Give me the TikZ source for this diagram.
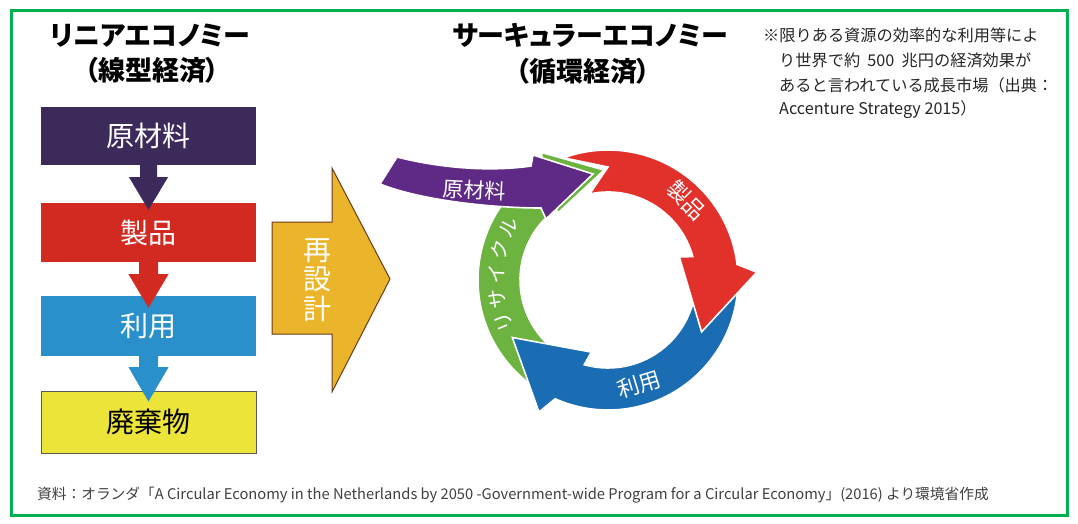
\documentclass[tikz,border=0pt]{standalone}
\usepackage{fontspec}
\usetikzlibrary{calc}
\newfontfamily\jp{Noto Sans CJK JP}
\newfontfamily\jpp[RawFeature=+palt]{Noto Sans CJK JP}
\definecolor{lpurple}{HTML}{3C2A5A}
\definecolor{lred}{HTML}{D22A20}
\definecolor{lblue}{HTML}{2990CB}
\definecolor{lyellow}{HTML}{EDE439}
\definecolor{gold}{HTML}{EAB52A}
\definecolor{goldedge}{HTML}{6B3A1A}
\definecolor{rpurple}{HTML}{5F2A86}
\definecolor{rred}{HTML}{E2302A}
\definecolor{rblue}{HTML}{1A6DB3}
\definecolor{rgreen}{HTML}{6DB33F}
\definecolor{frame}{HTML}{00B04F}
\tikzset{
  lbox/.style={minimum width=215pt, inner sep=0pt, text=white,
    font=\jp\fontsize{28}{30}\selectfont},
  title/.style={font=\jpp\bfseries\fontsize{27}{30}\selectfont, inner sep=0pt},
  ringshape/.style={draw=white, line width=1.6pt, line join=miter},
  ringtxt/.style={text=white, inner sep=0pt, font=\jp\fontsize{22}{23}\selectfont},
  recytxt/.style={text=white, inner sep=0pt, font=\jp\fontsize{20}{21}\selectfont},
  note/.style={anchor=west, inner sep=0pt, font=\jp\fontsize{16.2}{18}\selectfont, text=black!85},
}
\begin{document}
\begin{tikzpicture}[x=1pt,y=-1pt]
\fill[white] (0,0) rectangle (1078,523);
\useasboundingbox (0,0) rectangle (1078,523);
\draw[frame, line width=3.5pt] (11.5,10.5) rectangle (1067.5,515.5);

% ---------- left: linear economy ----------
\node[title] (lt1) at (150,36) {リニアエコノミー};
\node[title] (lt2) at (152,70) {（線型経済）};

\node[lbox, fill=lpurple, minimum height=58pt] (raw) at (148.5,136) {原材料};
\node[lbox, fill=lred, minimum height=59pt] (prod) at (148.5,232.5) {\raisebox{-4pt}{製品}};
\node[lbox, fill=lblue, minimum height=60pt] (use) at (148.5,326) {\raisebox{-8pt}{利用}};
\node[lbox, fill=lyellow, draw=black!65, line width=1pt, text=black, minimum height=62pt] (waste) at (148.5,422) {\raisebox{-5pt}{廃棄物}};

\fill[lpurple] ($(raw.south)+(-8.5,0)$) -- ($(raw.south)+(8.5,0)$) -- ($(raw.south)+(8.5,12)$)
  -- ($(raw.south)+(19.5,12)$) -- ($(prod.north)+(0,7)$) -- ($(raw.south)+(-19.5,12)$)
  -- ($(raw.south)+(-8.5,12)$) -- cycle;
\fill[lred] ($(prod.south)+(-9.5,0)$) -- ($(prod.south)+(9.5,0)$) -- ($(prod.south)+(9.5,12)$)
  -- ($(prod.south)+(20,12)$) -- ($(use.north)+(0,12)$) -- ($(prod.south)+(-20,12)$)
  -- ($(prod.south)+(-9.5,12)$) -- cycle;
\fill[lblue] ($(use.south)+(-9.5,0)$) -- ($(use.south)+(9.5,0)$) -- ($(use.south)+(9.5,11)$)
  -- ($(use.south)+(20,11)$) -- ($(waste.north)+(0,11)$) -- ($(use.south)+(-20,11)$)
  -- ($(use.south)+(-9.5,11)$) -- cycle;

% ---------- redesign arrow ----------
\coordinate (gtip) at (390,279);
\draw[fill=gold, draw=goldedge, line width=1pt, line join=miter]
  (272,222) -- (332,222) -- (332,168) -- (gtip) -- (332,392) -- (332,334) -- (272,334) -- cycle;
\node[text=white, inner sep=0pt, align=center, font=\jp\fontsize{28}{29.5}\selectfont] (redesign) at (317,280) {再\\設\\計};

% ---------- right: circular economy ----------
\node[title] (rt1) at (590,35) {サーキュラーエコノミー};
\node[title] (rt2) at (583,71) {（循環経済）};

\coordinate (C) at (608,280);
% green (recycle)
\filldraw[fill=rgreen, ringshape] ($(C)+(128:130)$) arc[start angle=128, end angle=240.3, radius=130]
  -- ($(C)+(242.4:144)$) -- ($(C)+(268:110)$) -- ($(C)+(233.3:83.6)$) -- ($(C)+(234:88)$)
  arc[start angle=234, end angle=128, radius=88] -- cycle;
% blue (use)
\filldraw[fill=rblue, ringshape] ($(C)+(0:130)$) arc[start angle=0, end angle=114, radius=130]
  -- ($(C)+(117.6:149)$) -- ($(C)+(149:111.6)$) -- ($(C)+(103:74)$) -- ($(C)+(105.7:88)$)
  arc[start angle=105.7, end angle=0, radius=88] -- cycle;
% red (product)
\filldraw[fill=rred, ringshape] ($(C)+(-110:130)$) arc[start angle=-110, end angle=-6.9, radius=130]
  -- ($(C)+(-3:149)$) -- ($(C)+(29:107)$) -- ($(C)+(-18:75)$) -- ($(C)+(-15.4:88)$)
  arc[start angle=-15.4, end angle=-102, radius=88] -- ($(C)+(-90:113)$) -- cycle;
% purple (raw material)
\coordinate (ptip) at (593,174);
\filldraw[fill=rpurple, ringshape] (397,157) .. controls (440,168) and (490,172) .. (531,166)
  -- (533,155) -- (ptip) -- (546,219) -- (541,208)
  .. controls (490,208) and (420,200) .. (380,184) -- cycle;
\node[text=white, inner sep=0pt, rotate=-3, font=\jp\fontsize{21}{22}\selectfont] (rawr) at (474,190) {原材料};

% ring labels
\node[ringtxt, rotate=-45] (sei) at ($(C)+(-45.5:112)$) {製品};
\node[ringtxt, rotate=17] (riy) at ($(C)+(73.5:109)$) {利用};
\node[recytxt, rotate=112] (r1) at ($(C)+(-202:112)$) {リ};
\node[recytxt, rotate=99.5] (r2) at ($(C)+(-189.5:112)$) {サ};
\node[recytxt, rotate=87] (r3) at ($(C)+(-177:112)$) {イ};
\node[recytxt, rotate=74.5] (r4) at ($(C)+(-164.5:112)$) {ク};
\node[recytxt, rotate=62] (r5) at ($(C)+(-152:112)$) {ル};

% ---------- note ----------
\node[note] (n1) at (763,35) {※限りある資源の効率的な利用等によ};
\node[note] (n2) at (779,60) {り世界で約\ \ 500\ \ 兆円の経済効果が};
\node[note] (n3) at (779,85) {あると言われている成長市場（出典：};
\node[note] (n4) at (779,110) {Accenture Strategy 2015）};

% ---------- footer ----------
\node[anchor=west, inner sep=0pt, text=black!75, font=\jp\fontsize{14.7}{16}\selectfont] (src) at (37,495)
  {資料：オランダ「A Circular Economy in the Netherlands by 2050 -Government-wide Program for a Circular Economy」(2016) より環境省作成};
\end{tikzpicture}
\end{document}
